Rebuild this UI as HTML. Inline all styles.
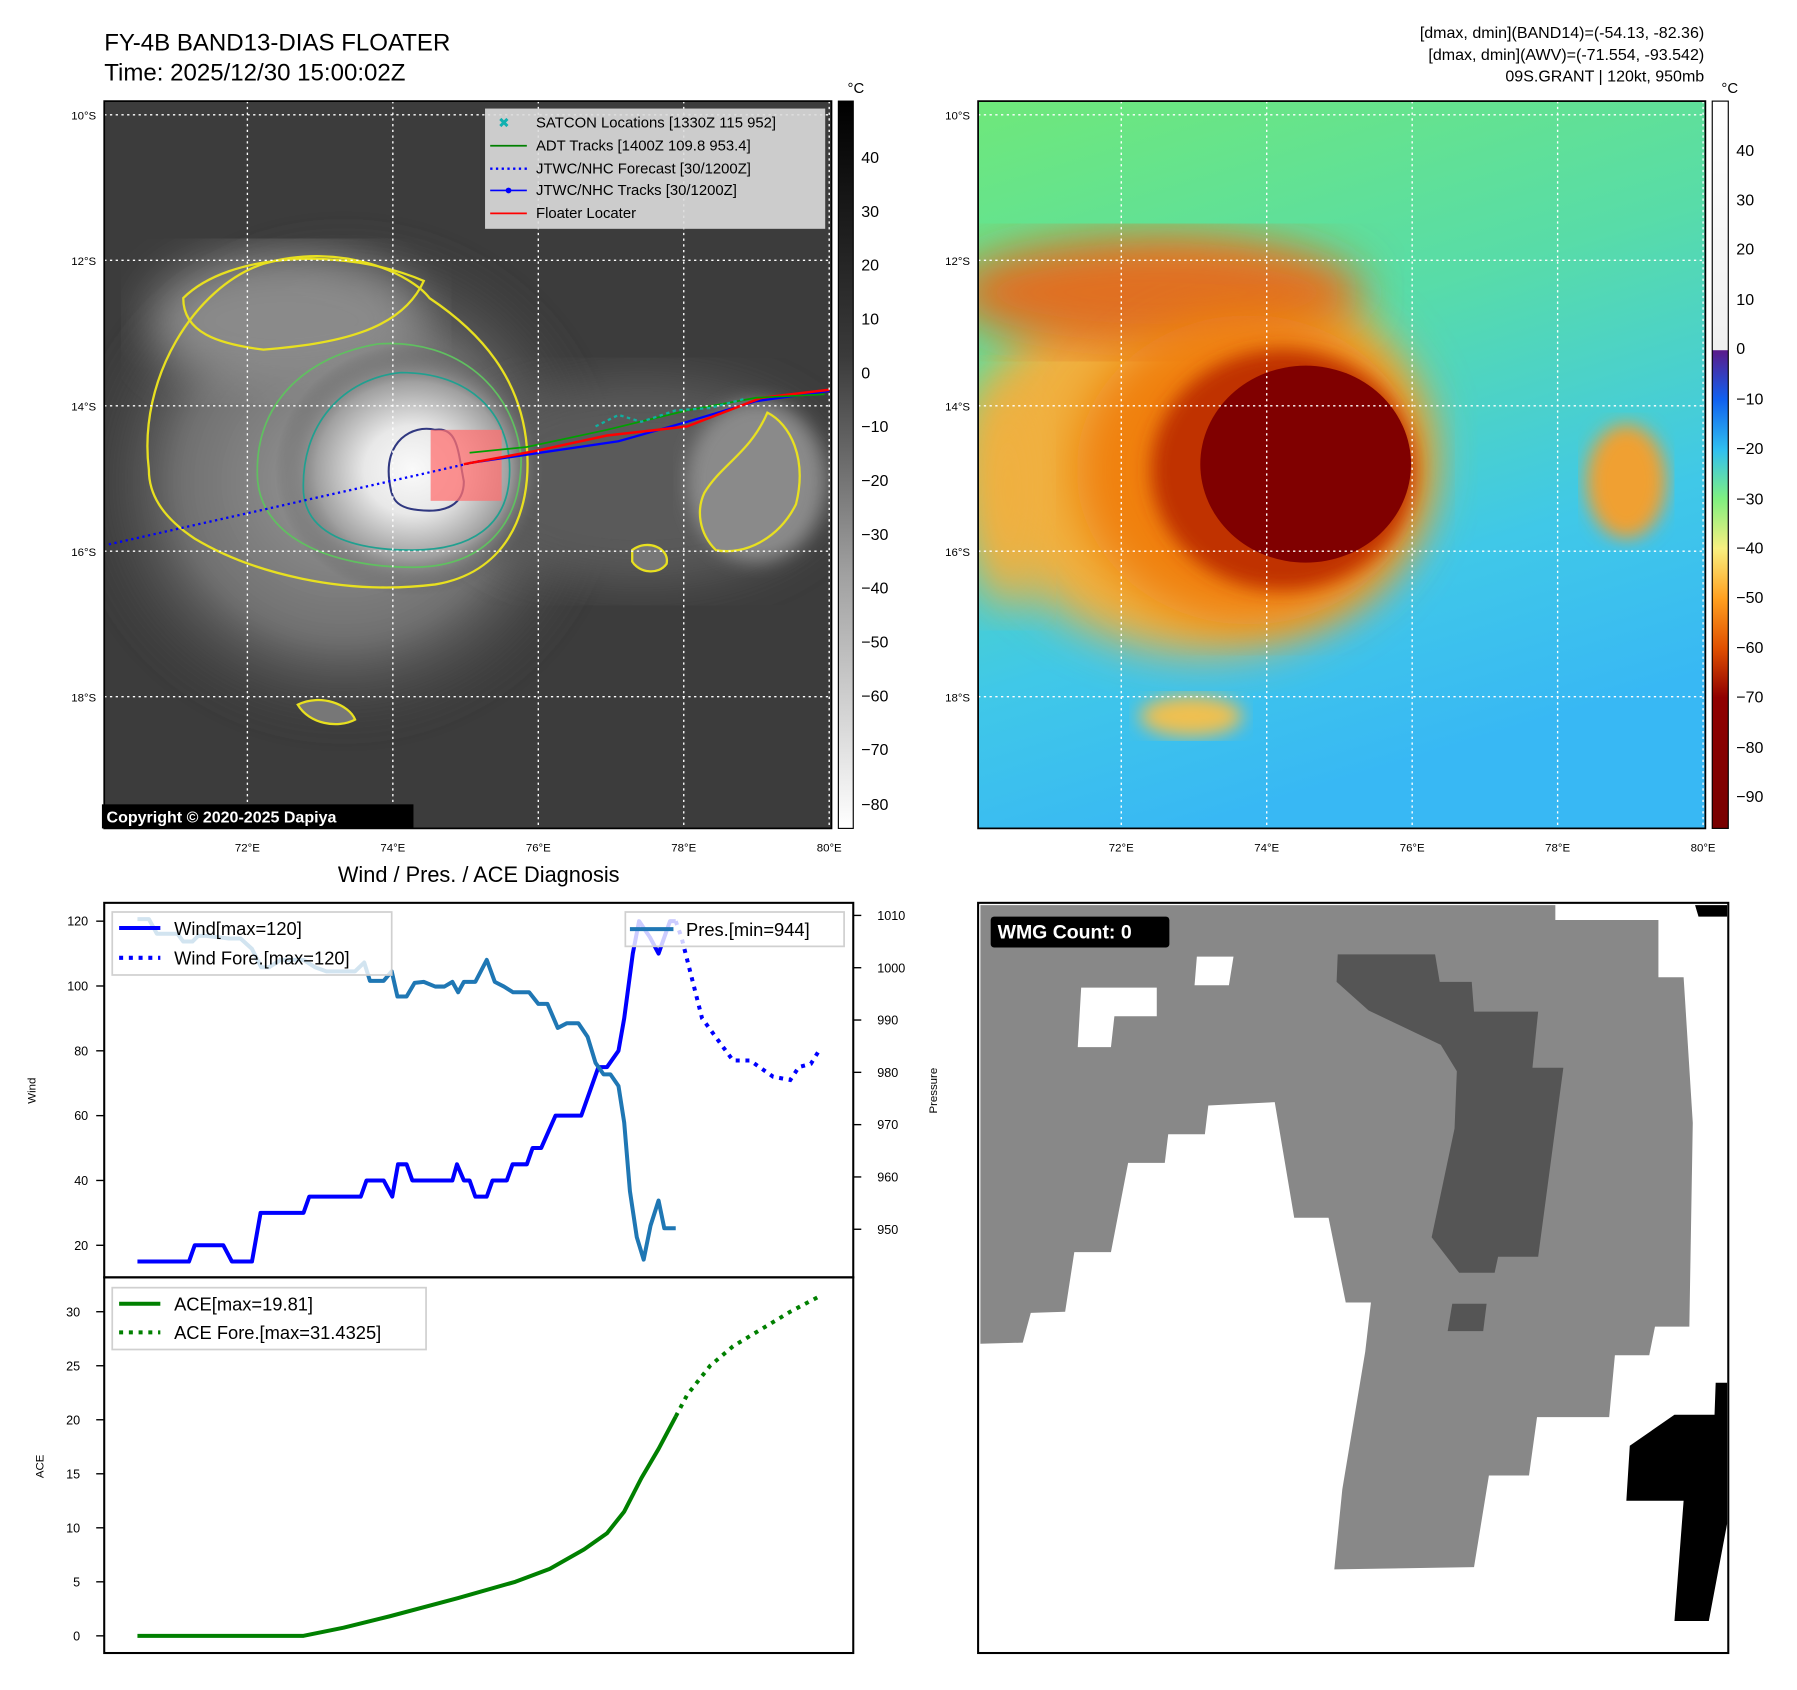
<!DOCTYPE html>
<html><head><meta charset="utf-8"><style>html,body{margin:0;padding:0;background:#fff}svg{display:block;font-family:"Liberation Sans","DejaVu Sans",sans-serif}</style></head>
<body>
<svg id="fig" width="1797" height="1690" viewBox="0 0 1569 1475" xmlns="http://www.w3.org/2000/svg">
<defs>
<radialGradient id="core" cx="0.5" cy="0.5" r="0.5"><stop offset="0" stop-color="#fafafa"/><stop offset="0.35" stop-color="#e8e8e8"/><stop offset="0.7" stop-color="#a0a0a0"/><stop offset="1" stop-color="#505050" stop-opacity="0"/></radialGradient>
<radialGradient id="band" cx="0.5" cy="0.5" r="0.5"><stop offset="0" stop-color="#9a9a9a"/><stop offset="0.6" stop-color="#707070"/><stop offset="1" stop-color="#3c3c3c" stop-opacity="0"/></radialGradient>
<linearGradient id="cbGray" x1="0" y1="0" x2="0" y2="1"><stop offset="0" stop-color="#000"/><stop offset="0.35" stop-color="#3a3a3a"/><stop offset="0.65" stop-color="#a0a0a0"/><stop offset="1" stop-color="#fff"/></linearGradient>
<linearGradient id="cbColor" x1="0" y1="0" x2="0" y2="1">
<stop offset="0" stop-color="#ffffff"/><stop offset="0.342" stop-color="#f0f0f0"/><stop offset="0.343" stop-color="#5a1a8a"/><stop offset="0.41" stop-color="#1060f0"/><stop offset="0.48" stop-color="#30c0f0"/><stop offset="0.547" stop-color="#80f080"/><stop offset="0.615" stop-color="#f8f080"/><stop offset="0.684" stop-color="#ffa020"/><stop offset="0.752" stop-color="#e05000"/><stop offset="0.82" stop-color="#900000"/><stop offset="1" stop-color="#780000"/></linearGradient>
<linearGradient id="rbg" x1="0" y1="0" x2="0.3" y2="1"><stop offset="0" stop-color="#6fe87a"/><stop offset="0.4" stop-color="#58dca8"/><stop offset="0.75" stop-color="#40c8e8"/><stop offset="1" stop-color="#38b8f4"/></linearGradient>
<filter id="blur8"><feGaussianBlur stdDeviation="8"/></filter>
<filter id="blur20"><feGaussianBlur stdDeviation="20"/></filter>
<clipPath id="clipL"><rect x="91" y="88" width="635" height="635"/></clipPath>
<clipPath id="clipR"><rect x="854" y="88" width="635" height="635"/></clipPath>
<clipPath id="clipW"><rect x="91" y="788" width="654" height="327"/></clipPath>
</defs>

<text x="91" y="44" font-size="21">FY-4B BAND13-DIAS FLOATER</text>
<text x="91" y="70" font-size="21">Time: 2025/12/30 15:00:02Z</text>
<g font-size="14" text-anchor="end">
<text x="1488" y="33">[dmax, dmin](BAND14)=(-54.13, -82.36)</text>
<text x="1488" y="52">[dmax, dmin](AWV)=(-71.554, -93.542)</text>
<text x="1488" y="71">09S.GRANT | 120kt, 950mb</text>
</g>

<g clip-path="url(#clipL)">
<rect x="91" y="88" width="635" height="635" fill="#3c3c3c"/>
<ellipse cx="300" cy="420" rx="240" ry="230" fill="url(#band)" filter="url(#blur8)"/>
<ellipse cx="560" cy="420" rx="170" ry="90" fill="#5a5a5a" filter="url(#blur20)"/>
<ellipse cx="660" cy="420" rx="60" ry="70" fill="#8a8a8a" filter="url(#blur8)"/>
<ellipse cx="250" cy="280" rx="120" ry="60" fill="#8a8a8a" filter="url(#blur20)"/>
<ellipse cx="360" cy="410" rx="120" ry="110" fill="url(#core)"/>
<path d="M130,410 C120,330 170,250 230,230 C300,210 360,240 375,260 C420,290 455,330 460,390 C465,450 440,500 380,510 C300,520 220,500 170,470 C140,450 130,430 130,410 Z" fill="none" stroke="#e8e020" stroke-width="2"/>
<path d="M225,420 C220,350 270,310 330,300 C400,295 450,340 455,400 C455,460 420,495 360,495 C290,495 230,470 225,420 Z" fill="none" stroke="#60c060" stroke-width="1.5"/>
<path d="M265,430 C262,370 300,330 350,325 C410,325 445,360 445,410 C445,460 410,480 360,480 C305,480 268,465 265,430 Z" fill="none" stroke="#20a090" stroke-width="1.5"/>
<path d="M340,420 C335,385 360,370 380,375 C400,372 400,395 405,420 C405,440 390,448 365,445 C345,443 342,435 340,420 Z" fill="none" stroke="#303880" stroke-width="1.8"/>
<path d="M615,430 C630,405 655,395 670,360 C690,370 705,400 695,440 C680,470 650,485 625,480 C610,465 608,445 615,430 Z" fill="#8a8a8a" stroke="#e8e020" stroke-width="2"/>
<path d="M552,480 C565,470 585,478 582,492 C575,502 558,500 552,490 Z" fill="#777" stroke="#e8e020" stroke-width="2"/>
<path d="M260,615 C280,605 305,615 310,628 C295,636 270,632 260,615 Z" fill="#777" stroke="#e8e020" stroke-width="2"/>
<path d="M160,260 C200,220 300,215 370,245 C350,290 290,300 230,305 C190,300 160,290 160,260 Z" fill="none" stroke="#e8e020" stroke-width="2"/>
<rect x="376" y="375" width="62" height="62" fill="#ff7070" opacity="0.75"/>
<path d="M95,475 L420,402" stroke="#0000ff" stroke-width="2" stroke-dasharray="2,3" fill="none"/>
<path d="M410,404 L540,385 L600,368 L660,350 L724,341" stroke="#0000ff" stroke-width="2" fill="none"/>
<path d="M405,405 L470,393 L530,380 L600,372 L665,347 L724,340" stroke="#ff0000" stroke-width="2.2" fill="none"/>
<path d="M410,395 L460,390 L530,375 L600,358 L660,347 L720,344" stroke="#00a000" stroke-width="1.5" fill="none"/>
<path d="M520,372 L540,362 L560,368 L590,358 L620,356 L650,348" stroke="#10b0a0" stroke-width="2" stroke-dasharray="3,3" fill="none"/>
<g stroke="#fff" stroke-width="1.2" stroke-dasharray="2,3" fill="none">
<line x1="91" y1="100" x2="726" y2="100"/><line x1="91" y1="227" x2="726" y2="227"/><line x1="91" y1="354" x2="726" y2="354"/><line x1="91" y1="481" x2="726" y2="481"/><line x1="91" y1="608" x2="726" y2="608"/>
<line x1="216" y1="88" x2="216" y2="723"/><line x1="343" y1="88" x2="343" y2="723"/><line x1="470" y1="88" x2="470" y2="723"/><line x1="597" y1="88" x2="597" y2="723"/><line x1="724" y1="88" x2="724" y2="723"/>
</g>
</g>
<rect x="91" y="88" width="635" height="635" fill="none" stroke="#000" stroke-width="1.5"/>
<g font-size="13">
<rect x="424" y="95" width="296" height="104" fill="#dcdcdc" fill-opacity="0.9" stroke="#ccc"/>
<text x="440" y="111" fill="#10b0b0" font-size="12" text-anchor="middle">✖</text><text x="468" y="111">SATCON Locations [1330Z 115 952]</text>
<line x1="428" y1="127" x2="460" y2="127" stroke="#008000" stroke-width="1.5"/><text x="468" y="131">ADT Tracks [1400Z 109.8 953.4]</text>
<line x1="428" y1="147" x2="460" y2="147" stroke="#0000ff" stroke-width="2" stroke-dasharray="2,3"/><text x="468" y="151">JTWC/NHC Forecast [30/1200Z]</text>
<line x1="428" y1="166" x2="460" y2="166" stroke="#0000ff" stroke-width="1.5"/><circle cx="444" cy="166" r="2.5" fill="#0000ff"/><text x="468" y="170">JTWC/NHC Tracks [30/1200Z]</text>
<line x1="428" y1="186" x2="460" y2="186" stroke="#ff0000" stroke-width="1.5"/><text x="468" y="190">Floater Locater</text>
</g>
<g><rect x="89" y="702" width="272" height="21" fill="#000"/><text x="93" y="718" fill="#fff" font-size="14" font-weight="bold">Copyright © 2020-2025 Dapiya</text></g>
<g font-size="10" text-anchor="end">
<text x="84" y="104">10°S</text><text x="84" y="231">12°S</text><text x="84" y="358">14°S</text><text x="84" y="485">16°S</text><text x="84" y="612">18°S</text></g>
<g font-size="10" text-anchor="middle">
<text x="216" y="743">72°E</text><text x="343" y="743">74°E</text><text x="470" y="743">76°E</text><text x="597" y="743">78°E</text><text x="724" y="743">80°E</text></g>
<g>
<rect x="732" y="88" width="13" height="635" fill="url(#cbGray)" stroke="#000"/>
<text x="740" y="81" font-size="13">°C</text>
<g font-size="14">
<text x="752" y="142">40</text><text x="752" y="189">30</text><text x="752" y="236">20</text><text x="752" y="283">10</text><text x="752" y="330">0</text><text x="752" y="377">−10</text><text x="752" y="424">−20</text><text x="752" y="471">−30</text><text x="752" y="518">−40</text><text x="752" y="565">−50</text><text x="752" y="612">−60</text><text x="752" y="659">−70</text><text x="752" y="707">−80</text></g></g>

<g clip-path="url(#clipR)">
<rect x="854" y="88" width="635" height="635" fill="url(#rbg)"/>
<ellipse cx="1050" cy="400" rx="200" ry="170" fill="#f0b040" filter="url(#blur20)"/>
<ellipse cx="1010" cy="255" rx="180" ry="50" fill="#e07020" filter="url(#blur20)"/>
<ellipse cx="1090" cy="410" rx="150" ry="135" fill="#f08010" filter="url(#blur20)"/>
<ellipse cx="1120" cy="410" rx="115" ry="105" fill="#c03000" filter="url(#blur8)"/>
<ellipse cx="1140" cy="405" rx="92" ry="86" fill="#800000"/>
<ellipse cx="1420" cy="420" rx="35" ry="50" fill="#f0a030" filter="url(#blur8)"/>
<ellipse cx="880" cy="430" rx="35" ry="100" fill="#f0b040" filter="url(#blur20)"/>
<ellipse cx="1040" cy="625" rx="45" ry="18" fill="#f0c050" filter="url(#blur8)"/>
<g stroke="#fff" stroke-width="1.2" stroke-dasharray="2,3" fill="none">
<line x1="854" y1="100" x2="1489" y2="100"/><line x1="854" y1="227" x2="1489" y2="227"/><line x1="854" y1="354" x2="1489" y2="354"/><line x1="854" y1="481" x2="1489" y2="481"/><line x1="854" y1="608" x2="1489" y2="608"/>
<line x1="979" y1="88" x2="979" y2="723"/><line x1="1106" y1="88" x2="1106" y2="723"/><line x1="1233" y1="88" x2="1233" y2="723"/><line x1="1360" y1="88" x2="1360" y2="723"/><line x1="1487" y1="88" x2="1487" y2="723"/>
</g></g>
<rect x="854" y="88" width="635" height="635" fill="none" stroke="#000" stroke-width="1.5"/>
<g font-size="10" text-anchor="end">
<text x="847" y="104">10°S</text><text x="847" y="231">12°S</text><text x="847" y="358">14°S</text><text x="847" y="485">16°S</text><text x="847" y="612">18°S</text></g>
<g font-size="10" text-anchor="middle">
<text x="979" y="743">72°E</text><text x="1106" y="743">74°E</text><text x="1233" y="743">76°E</text><text x="1360" y="743">78°E</text><text x="1487" y="743">80°E</text></g>
<g>
<rect x="1495" y="88" width="14" height="635" fill="url(#cbColor)" stroke="#000"/>
<text x="1503" y="81" font-size="13">°C</text>
<g font-size="14">
<text x="1516" y="136">40</text><text x="1516" y="179">30</text><text x="1516" y="222">20</text><text x="1516" y="266">10</text><text x="1516" y="309">0</text><text x="1516" y="353">−10</text><text x="1516" y="396">−20</text><text x="1516" y="440">−30</text><text x="1516" y="483">−40</text><text x="1516" y="526">−50</text><text x="1516" y="570">−60</text><text x="1516" y="613">−70</text><text x="1516" y="657">−80</text><text x="1516" y="700">−90</text></g></g>

<text x="418" y="770" font-size="19" text-anchor="middle">Wind / Pres. / ACE Diagnosis</text>
<g id="wind-axes"></g>
<g id="ace-axes"></g>
<rect x="91" y="788" width="654" height="327" fill="none" stroke="#000" stroke-width="1.8"/>
<rect x="91" y="1115" width="654" height="328" fill="none" stroke="#000" stroke-width="1.8"/>
<text transform="translate(31,952) rotate(-90)" font-size="10" text-anchor="middle">Wind</text>
<text transform="translate(818,952) rotate(-90)" font-size="10" text-anchor="middle">Pressure</text>
<text transform="translate(38,1280) rotate(-90)" font-size="10" text-anchor="middle">ACE</text>

<g font-size="16">
<rect x="98" y="796" width="244" height="55" fill="#fff" fill-opacity="0.8" stroke="#d0d0d0" stroke-width="1.5"/>
<line x1="104" y1="810" x2="140" y2="810" stroke="#0000ff" stroke-width="3.5"/><text x="152" y="816">Wind[max=120]</text>
<line x1="104" y1="836" x2="140" y2="836" stroke="#0000ff" stroke-width="3.5" stroke-dasharray="3.5,5"/><text x="152" y="842">Wind Fore.[max=120]</text>
</g>
<g font-size="16">
<rect x="546" y="796" width="191" height="30" fill="#fff" fill-opacity="0.8" stroke="#d0d0d0" stroke-width="1.5"/>
<line x1="550" y1="811" x2="588" y2="811" stroke="#1f77b4" stroke-width="3.5"/><text x="599" y="817">Pres.[min=944]</text>
</g>
<g font-size="16">
<rect x="98" y="1124" width="274" height="54" fill="#fff" fill-opacity="0.8" stroke="#d0d0d0" stroke-width="1.5"/>
<line x1="104" y1="1138" x2="140" y2="1138" stroke="#008000" stroke-width="3.5"/><text x="152" y="1144">ACE[max=19.81]</text>
<line x1="104" y1="1163" x2="140" y2="1163" stroke="#008000" stroke-width="3.5" stroke-dasharray="3.5,5"/><text x="152" y="1169">ACE Fore.[max=31.4325]</text>
</g>

<g>
<rect x="854" y="788" width="655" height="655" fill="#fff"/>
<path fill="#888" d="M856,790 L1358,790 L1358,803 L1448,803 L1448,853 L1470,853 L1478,980 L1475,1158 L1445,1158 L1440,1183 L1410,1183 L1405,1237 L1342,1237 L1335,1288 L1300,1288 L1287,1368 L1165,1370 L1172,1300 L1182,1240 L1192,1180 L1197,1137 L1175,1137 L1160,1063 L1130,1063 L1113,962 L1055,965 L1052,990 L1020,990 L1017,1015 L985,1015 L970,1093 L938,1093 L930,1145 L900,1146 L893,1172 L856,1173 Z"/>
<path fill="#fff" d="M944,862 L1010,862 L1010,887 L973,887 L970,914 L941,914 Z M1045,835 L1077,835 L1073,860 L1043,860 Z"/>
<path fill="#555" d="M1168,833 L1253,833 L1257,857 L1285,857 L1287,883 L1343,883 L1338,932 L1365,932 L1343,1097 L1308,1097 L1305,1111 L1274,1111 L1250,1080 L1270,985 L1272,935 L1258,912 L1195,882 L1167,857 Z M1268,1138 L1298,1138 L1295,1162 L1264,1162 Z"/>
<path fill="#000" d="M1480,790 L1508,790 L1508,800 L1483,800 Z M1498,1207 L1508,1207 L1508,1330 L1492,1415 L1462,1415 L1470,1310 L1420,1310 L1423,1262 L1462,1235 L1497,1235 Z"/>
<rect x="854" y="788" width="655" height="655" fill="none" stroke="#000" stroke-width="1.8"/>
<g><rect x="865" y="800" width="156" height="27" rx="3" fill="#000"/><text x="871" y="819" fill="#fff" font-size="17" font-weight="bold">WMG Count: 0</text></g>
</g>
</svg>
<script>
var tWind = [0,9,10,15,16.5,20,21.5,29,30,39,40,43,44.5,45.5,47,48,55,55.8,57,58,59,61,62,64.5,65.5,68,69,70.5,73,77.5,80.5,82,84,85,86.5,87.6,89.5,91,93,94];
var wind = [15,15,20,20,15,15,30,30,35,35,40,40,35,45,45,40,40,45,40,40,35,35,40,40,45,45,50,50,60,60,75,75,80,90,110,120,115,110,120,120];
var tWindFore = [94,95,98.6,104,107,111,114,115.5,117.6,119];
var windFore = [120,115,90,77,77,72,71,75,76,80];
var tPres = [0,2,3.4,7,8,9.6,10.6,12,16,18,20,21.6,23,25,29,31,33,38,39.6,40.6,43,44.4,45.4,47,48.4,50,52,53.6,55,56,57,59,61,62.4,64,65.6,68.4,70,71.6,73.4,75,77,78.6,80,81.4,82.6,84,85,86,87.2,88.4,89.6,91,92,94];
var pres = [1009.3,1009.3,1006.5,1006.5,1005,1005,1006.1,1006.1,1005.6,1005.6,1003.6,1000.1,1000.1,1001.5,1001.5,1000.1,999.3,999.3,1001,997.5,997.5,999.3,994.5,994.5,997.1,997.3,996.4,996.4,997.3,995.3,997.3,997.3,1001.5,997.3,996.4,995.3,995.3,993.1,993.1,988.5,989.4,989.4,986.8,981.8,979.6,979.6,977.4,970.4,957.3,948.5,944.2,950.7,955.5,950.2,950.2];
var tAce = [0,29,36,44,56,66,72,78,82,85,88,91,94];
var ace = [0,0,0.75,1.8,3.5,5,6.2,8,9.5,11.5,14.6,17.3,20.3];
var tAceFore = [94,96,100,104,109,114,119];
var aceFore = [20.3,22.3,25,26.8,28.4,30,31.4];
var windTicks = [20,40,60,80,100,120];
var presTicks = [950,960,970,980,990,1000,1010];
var aceTicks = [0,5,10,15,20,25,30];

var NS='http://www.w3.org/2000/svg';
function xS(t){return 120+5*t;}
function yWind(v){return 1087-(v-20)*2.83;}
function yPres(p){return 1073-(p-950)*4.567;}
function yAce(a){return 1428-a*9.433;}
function mk(tag,attrs,parent){var e=document.createElementNS(NS,tag);for(var k in attrs)e.setAttribute(k,attrs[k]);parent.appendChild(e);return e;}
function pathD(ts,vs,ys){var d='';for(var i=0;i<ts.length;i++){d+=(i?'L':'M')+xS(ts[i]).toFixed(1)+','+ys(vs[i]).toFixed(1);}return d;}
var wg=document.getElementById('wind-axes');
var ag=document.getElementById('ace-axes');
windTicks.forEach(function(v){var y=yWind(v);
 var l=mk('line',{x1:84,x2:91,y1:y,y2:y,stroke:'#000','stroke-width':1.2},wg);
 
 
 var t=mk('text',{x:77,y:y+4,'font-size':11,'text-anchor':'end'},wg);t.textContent=v;
 
 });
presTicks.forEach(function(v){var y=yPres(v);
 var l=mk('line',{x1:745,x2:752,y1:y,y2:y,stroke:'#000','stroke-width':1.2},wg);
 
 
 var t=mk('text',{x:766,y:y+4,'font-size':11},wg);t.textContent=v;
 
 });
aceTicks.forEach(function(v){var y=yAce(v);
 var l=mk('line',{x1:84,x2:91,y1:y,y2:y,stroke:'#000','stroke-width':1.2},ag);
 
 
 var t=mk('text',{x:70,y:y+4,'font-size':11,'text-anchor':'end'},ag);t.textContent=v;
 
 });
var cg=mk('g',{'clip-path':'url(#clipW)'},wg);
var p1=mk('path',{d:pathD(tWind,wind,yWind),fill:'none',stroke:'#0000ff','stroke-width':3.5,'stroke-linejoin':'round'},cg);


var p2=mk('path',{d:pathD(tWindFore,windFore,yWind),fill:'none',stroke:'#0000ff','stroke-width':3.5,'stroke-dasharray':'3.5,5'},cg);


var p3=mk('path',{d:pathD(tPres,pres,yPres),fill:'none',stroke:'#1f77b4','stroke-width':3.5,'stroke-linejoin':'round'},cg);


var p4=mk('path',{d:pathD(tAce,ace,yAce),fill:'none',stroke:'#008000','stroke-width':3.5,'stroke-linejoin':'round'},ag);


var p5=mk('path',{d:pathD(tAceFore,aceFore,yAce),fill:'none',stroke:'#008000','stroke-width':3.5,'stroke-dasharray':'3.5,5'},ag);


</script>
</body></html>
